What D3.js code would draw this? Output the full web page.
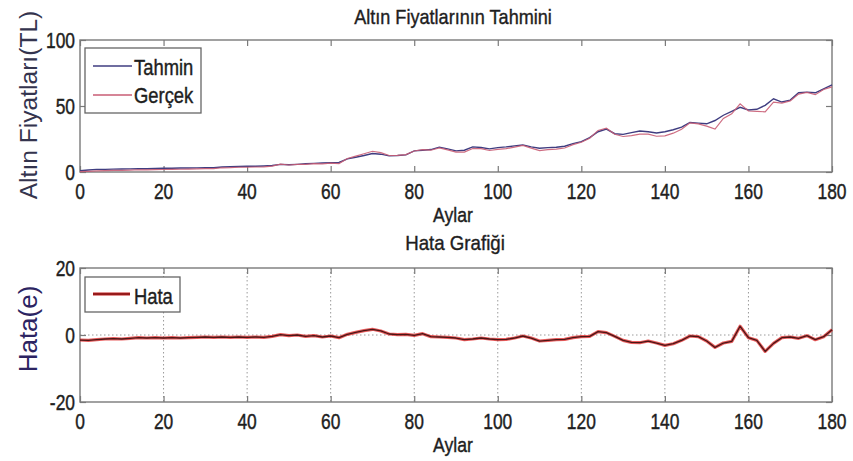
<!DOCTYPE html>
<html>
<head>
<meta charset="utf-8">
<script src="https://cdn.jsdelivr.net/npm/d3@7/dist/d3.min.js"></script>
<style>
  body { margin: 0; background: #fff; }
  svg { display: block; font-family: "Liberation Sans", Arial, sans-serif; }
</style>
</head>
<body>
<svg id="chart" width="853" height="461"></svg>
<script>
// ---- data (one value every 2 months) ----
const months = d3.range(0, 181, 2);

const tahmin = [
  1.0, 1.5, 2.0, 2.0, 2.2, 2.3, 2.4, 2.5, 2.5, 2.6,
  2.8, 2.8, 3.0, 3.0, 3.1, 3.2, 3.2, 3.8, 4.0, 4.2,
  4.3, 4.4, 4.6, 4.9, 5.8, 5.5, 5.8, 6.2, 6.5, 6.8,
  7.0, 7.2, 10.0, 11.2, 12.5, 14.0, 13.5, 12.2, 12.5, 13.0,
  16.0, 16.5, 17.0, 18.8, 17.5, 16.0, 16.5, 19.0, 18.6, 17.5,
  18.5, 19.0, 19.8, 20.5, 19.0, 18.0, 18.5, 18.7, 19.5, 21.5,
  23.0, 26.0, 30.5, 32.5, 29.0, 28.5, 29.8, 31.0, 30.5, 29.5,
  30.5, 32.0, 34.0, 37.5, 37.0, 36.5, 39.0, 43.0, 46.0, 49.0,
  47.0, 47.5, 50.5, 55.5, 53.0, 54.5, 60.0, 60.5, 60.0, 63.0,
  66.0
];

const gercek = [
  0.3, 0.5, 0.8, 1.0, 1.2, 1.2, 1.4, 1.7, 1.6, 1.8,
  1.9, 2.0, 2.1, 2.2, 2.4, 2.6, 2.5, 3.2, 3.3, 3.6,
  3.6, 3.8, 3.9, 4.5, 5.9, 5.3, 5.8, 5.8, 6.3, 6.2,
  6.7, 6.4, 10.2, 12.0, 13.8, 15.7, 14.7, 12.5, 12.6, 13.2,
  15.9, 16.9, 16.5, 18.2, 16.8, 15.1, 15.1, 17.8, 17.7, 16.3,
  17.1, 17.7, 18.9, 20.2, 18.1, 16.2, 16.9, 17.3, 18.2, 20.7,
  22.5, 25.6, 31.5, 33.2, 28.6, 26.9, 27.6, 28.7, 28.7, 27.1,
  27.4, 29.4, 32.4, 37.2, 36.5, 34.7, 32.5, 40.6, 44.1, 51.6,
  46.2, 45.9, 45.6, 53.0, 52.2, 53.9, 59.0, 60.3, 58.6, 62.5,
  64.5
];

const hata = [
  -1.5, -1.6, -1.4, -1.2, -1.1, -1.2, -1.0, -0.8, -0.9, -0.8,
  -0.9, -0.8, -0.9, -0.8, -0.7, -0.6, -0.7, -0.6, -0.7, -0.6,
  -0.7, -0.6, -0.7, -0.4, 0.1, -0.2, 0.0, -0.4, -0.2, -0.6,
  -0.3, -0.8, 0.2, 0.8, 1.3, 1.7, 1.2, 0.3, 0.1, 0.2,
  -0.1, 0.4, -0.5, -0.6, -0.7, -0.9, -1.4, -1.2, -0.9, -1.2,
  -1.4, -1.3, -0.9, -0.3, -0.9, -1.8, -1.6, -1.4, -1.3, -0.8,
  -0.5, -0.4, 1.0, 0.7, -0.4, -1.6, -2.2, -2.3, -1.8, -2.4,
  -3.1, -2.6, -1.6, -0.3, -0.5, -1.8, -3.7, -2.4, -1.9, 2.6,
  -0.8, -1.6, -4.9, -2.5, -0.8, -0.6, -1.0, -0.2, -1.4, -0.5,
  1.6
];

const xTicks = [0, 20, 40, 60, 80, 100, 120, 140, 160, 180];
const yTicksTop = [0, 50, 100];
const yTicksBot = [-20, 0, 20];

// ---- layout ----
const svg = d3.select('#chart');
const X0 = 80, X1 = 832;

const x    = d3.scaleLinear().domain([0, 180]).range([X0, X1]);
const yTop = d3.scaleLinear().domain([0, 100]).range([172, 40]);
const yBot = d3.scaleLinear().domain([-20, 20]).range([402, 268]);

const TEXT = '#1e1e1e';
const AXIS = '#7a7a7a';

// text that looks a bit taller than normal (as in the screenshot)
function stext(g, px, py, str, size, sy, anchor, fill) {
  const c = fill || TEXT;
  return g.append('text')
    .attr('transform', `translate(${px},${py}) scale(1,${sy})`)
    .attr('text-anchor', anchor || 'middle')
    .style('font-size', size + 'px')
    .attr('fill', c)
    .attr('stroke', c).attr('stroke-width', 0.35)
    .text(str);
}

function drawFrame(y, yTicks, baseX, grid) {
  const g = svg.append('g');
  const ya = y.range()[0], yb = y.range()[1];

  if (grid) {
    g.selectAll('line.vg').data(xTicks.filter(t => t > 0 && t < 180)).enter()
      .append('line')
      .attr('x1', d => x(d)).attr('x2', d => x(d))
      .attr('y1', yb).attr('y2', ya)
      .attr('stroke', '#9a9a9a').attr('stroke-width', 1)
      .attr('stroke-dasharray', '1.5,2.5');
    g.selectAll('line.hg').data(yTicks.filter(t => t !== y.domain()[0] && t !== y.domain()[1])).enter()
      .append('line')
      .attr('x1', X0).attr('x2', X1)
      .attr('y1', d => y(d)).attr('y2', d => y(d))
      .attr('stroke', '#9a9a9a').attr('stroke-width', 1)
      .attr('stroke-dasharray', '1.5,2.5');
  }

  // inward ticks on all four sides
  const tick = (axis, tr) => {
    const a = g.append('g').attr('transform', tr).call(axis);
    a.select('.domain').remove();
    a.selectAll('text').remove();
    a.selectAll('line').attr('stroke', AXIS).attr('stroke-width', 1.2);
  };
  tick(d3.axisBottom(x).tickValues(xTicks).tickSize(-6).tickSizeOuter(0), `translate(0,${ya})`);
  tick(d3.axisTop(x).tickValues(xTicks).tickSize(-6).tickSizeOuter(0), `translate(0,${yb})`);
  tick(d3.axisLeft(y).tickValues(yTicks).tickSize(-6).tickSizeOuter(0), `translate(${X0},0)`);
  tick(d3.axisRight(y).tickValues(yTicks).tickSize(-6).tickSizeOuter(0), `translate(${X1},0)`);

  g.append('rect')
    .attr('x', X0).attr('y', yb)
    .attr('width', X1 - X0).attr('height', ya - yb)
    .attr('fill', 'none').attr('stroke', AXIS).attr('stroke-width', 1.4);

  // tick labels
  xTicks.forEach(t => stext(g, x(t), baseX, t, 17.4, 1.32, 'middle'));
  yTicks.forEach(t => stext(g, 75, y(t) + 8, t, 17.4, 1.32, 'end'));
  return g;
}

// ---------- top panel ----------
drawFrame(yTop, yTicksTop, 199, false);

const lineTop = d3.line().x((d, i) => x(months[i])).y(d => yTop(d));
svg.append('path').datum(tahmin)
  .attr('d', lineTop).attr('fill', 'none')
  .attr('stroke', '#3f3d80').attr('stroke-width', 1.4);
svg.append('path').datum(gercek)
  .attr('d', lineTop).attr('fill', 'none')
  .attr('stroke', '#c95d74').attr('stroke-width', 1.2).attr('stroke-opacity', 0.9);

stext(svg, 453, 24, 'Altın Fiyatlarının Tahmini', 18.1, 1.12, 'middle');
stext(svg, 453, 222, 'Aylar', 17.6, 1.2, 'middle');
svg.append('text')
  .attr('transform', 'translate(37,105) rotate(-90)')
  .attr('text-anchor', 'middle')
  .style('font-size', '24.6px')
  .attr('fill', '#34344e')
  .text('Altın Fiyatları(TL)');

// legend (top)
const lg1 = svg.append('g');
lg1.append('rect').attr('x', 85).attr('y', 48).attr('width', 116).attr('height', 65)
  .attr('fill', '#fff').attr('stroke', '#666').attr('stroke-width', 1.3);
lg1.append('line').attr('x1', 93).attr('x2', 132).attr('y1', 66).attr('y2', 66)
  .attr('stroke', '#3f3d80').attr('stroke-width', 1.4);
lg1.append('line').attr('x1', 93).attr('x2', 132).attr('y1', 95).attr('y2', 95)
  .attr('stroke', '#c95d74').attr('stroke-width', 1.4);
stext(lg1, 134, 75, 'Tahmin', 18.4, 1.2, 'start');
stext(lg1, 134, 103, 'Gerçek', 18.4, 1.2, 'start');

// ---------- bottom panel ----------
drawFrame(yBot, yTicksBot, 429, true);

const lineBot = d3.line().x((d, i) => x(months[i])).y(d => yBot(d));
svg.append('path').datum(hata)
  .attr('d', lineBot).attr('fill', 'none')
  .attr('stroke', '#e02626').attr('stroke-width', 3.2).attr('stroke-opacity', 0.75)
  .attr('stroke-linejoin', 'round');
svg.append('path').datum(hata)
  .attr('d', lineBot).attr('fill', 'none')
  .attr('stroke', '#4a1616').attr('stroke-width', 1.3)
  .attr('stroke-linejoin', 'round');

stext(svg, 455, 250, 'Hata Grafiği', 18.7, 1.1, 'middle');
stext(svg, 453, 452, 'Aylar', 17.6, 1.2, 'middle');
svg.append('text')
  .attr('transform', 'translate(37,329) rotate(-90)')
  .attr('text-anchor', 'middle')
  .style('font-size', '26px')
  .attr('fill', '#2c2462')
  .text('Hata(e)');

// legend (bottom)
const lg2 = svg.append('g');
lg2.append('rect').attr('x', 85).attr('y', 277).attr('width', 95).attr('height', 35)
  .attr('fill', '#fff').attr('stroke', '#666').attr('stroke-width', 1.3);
lg2.append('line').attr('x1', 93).attr('x2', 130).attr('y1', 294).attr('y2', 294)
  .attr('stroke', '#c42020').attr('stroke-width', 3);
lg2.append('line').attr('x1', 93).attr('x2', 130).attr('y1', 294).attr('y2', 294)
  .attr('stroke', '#6a1414').attr('stroke-width', 1.2);
stext(lg2, 134, 304, 'Hata', 18.4, 1.2, 'start');
</script>
</body>
</html>
